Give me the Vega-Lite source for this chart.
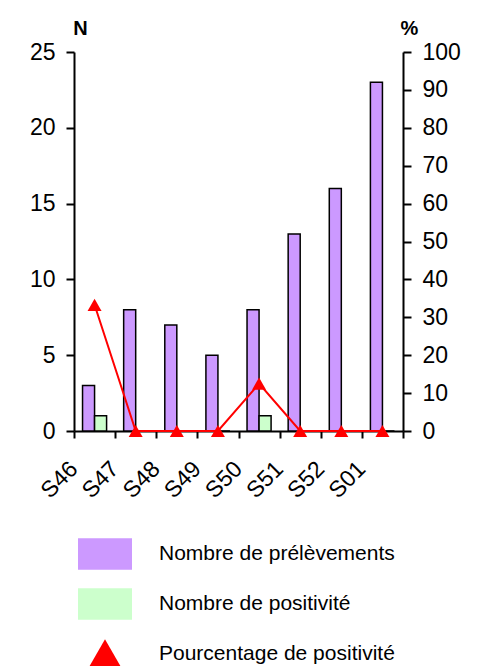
{
  "$schema": "https://vega.github.io/schema/vega-lite/v6.json",
  "width": 329,
  "height": 379,
  "autosize": {"type": "none"},
  "padding": {"left": 74, "top": 52, "right": 78, "bottom": 235},
  "background": "white",
  "config": {
    "view": {"stroke": null},
    "font": "Liberation Sans",
    "axis": {
      "grid": false,
      "domainColor": "black",
      "tickColor": "black",
      "domainWidth": 2,
      "tickWidth": 2,
      "labelColor": "black",
      "labelFont": "Liberation Sans",
      "labelFontSize": 23,
      "titleColor": "black",
      "titleFont": "Liberation Sans"
    },
    "legend": {
      "orient": "none",
      "legendX": 4,
      "legendY": 475,
      "padding": 0,
      "direction": "vertical",
      "symbolSize": 2916,
      "symbolStrokeWidth": 0,
      "labelFont": "Liberation Sans",
      "labelFontSize": 21,
      "labelColor": "black",
      "labelOffset": 27,
      "labelLimit": 400,
      "rowPadding": 7
    }
  },
  "datasets": {
    "bars": [
      {"week": "S46", "series": "Nombre de prélèvements", "n": 3},
      {"week": "S46", "series": "Nombre de positivité", "n": 1},
      {"week": "S47", "series": "Nombre de prélèvements", "n": 8},
      {"week": "S47", "series": "Nombre de positivité", "n": 0},
      {"week": "S48", "series": "Nombre de prélèvements", "n": 7},
      {"week": "S48", "series": "Nombre de positivité", "n": 0},
      {"week": "S49", "series": "Nombre de prélèvements", "n": 5},
      {"week": "S49", "series": "Nombre de positivité", "n": 0},
      {"week": "S50", "series": "Nombre de prélèvements", "n": 8},
      {"week": "S50", "series": "Nombre de positivité", "n": 1},
      {"week": "S51", "series": "Nombre de prélèvements", "n": 13},
      {"week": "S51", "series": "Nombre de positivité", "n": 0},
      {"week": "S52", "series": "Nombre de prélèvements", "n": 16},
      {"week": "S52", "series": "Nombre de positivité", "n": 0},
      {"week": "S01", "series": "Nombre de prélèvements", "n": 23},
      {"week": "S01", "series": "Nombre de positivité", "n": 0}
    ],
    "pct": [
      {"week": "S46", "series": "Pourcentage de positivité", "pct": 33.3},
      {"week": "S47", "series": "Pourcentage de positivité", "pct": 0},
      {"week": "S48", "series": "Pourcentage de positivité", "pct": 0},
      {"week": "S49", "series": "Pourcentage de positivité", "pct": 0},
      {"week": "S50", "series": "Pourcentage de positivité", "pct": 12.5},
      {"week": "S51", "series": "Pourcentage de positivité", "pct": 0},
      {"week": "S52", "series": "Pourcentage de positivité", "pct": 0},
      {"week": "S01", "series": "Pourcentage de positivité", "pct": 0}
    ]
  },
  "encoding": {
    "x": {
      "field": "week",
      "type": "nominal",
      "sort": ["S46", "S47", "S48", "S49", "S50", "S51", "S52", "S01"],
      "scale": {"paddingInner": 0, "paddingOuter": 0},
      "axis": {
        "title": null,
        "labelAngle": -45,
        "labelAlign": "right",
        "labelBaseline": "middle",
        "labelOffset": -21,
        "labelPadding": 27,
        "tickBand": "extent",
        "tickSize": 7
      }
    }
  },
  "layer": [
    {
      "data": {"name": "bars"},
      "mark": {"type": "bar", "stroke": "black", "strokeWidth": 1.5},
      "encoding": {
        "xOffset": {
          "field": "series",
          "type": "nominal",
          "scale": {"domain": ["Nombre de prélèvements", "Nombre de positivité"], "paddingInner": 0, "paddingOuter": 0.71}
        },
        "y": {
          "field": "n",
          "type": "quantitative",
          "scale": {"domain": [0, 25], "nice": false},
          "axis": {
            "values": [0, 5, 10, 15, 20, 25],
            "title": "N",
            "titleAngle": 0,
            "titleAlign": "center",
            "titleBaseline": "alphabetic",
            "titleX": 6,
            "titleY": -18,
            "titleFontSize": 20,
            "titleFontWeight": "bold",
            "tickSize": 8,
            "labelPadding": 11
          }
        },
        "fill": {
          "field": "series",
          "type": "nominal",
          "scale": {"domain": ["Nombre de prélèvements", "Nombre de positivité"], "range": ["#CC99FF", "#CCFFCC"]},
          "legend": null
        }
      }
    },
    {
      "data": {"name": "pct"},
      "encoding": {
        "y": {
          "field": "pct",
          "type": "quantitative",
          "scale": {"domain": [0, 100], "nice": false},
          "axis": {
            "orient": "right",
            "values": [0, 10, 20, 30, 40, 50, 60, 70, 80, 90, 100],
            "title": "%",
            "titleAngle": 0,
            "titleAlign": "center",
            "titleBaseline": "alphabetic",
            "titleX": 6,
            "titleY": -18,
            "titleFontSize": 20,
            "titleFontWeight": "bold",
            "tickSize": 8,
            "labelPadding": 11
          }
        }
      },
      "layer": [
        {
          "mark": {"type": "line", "color": "#FF0000", "strokeWidth": 2}
        },
        {
          "mark": {"type": "point", "filled": true, "opacity": 1, "size": 493, "strokeWidth": 0},
          "encoding": {
            "color": {
              "field": "series",
              "type": "nominal",
              "title": null,
              "scale": {
                "domain": ["Nombre de prélèvements", "Nombre de positivité", "Pourcentage de positivité"],
                "range": ["#CC99FF", "#CCFFCC", "#FF0000"]
              }
            },
            "shape": {
              "field": "series",
              "type": "nominal",
              "title": null,
              "scale": {
                "domain": ["Nombre de prélèvements", "Nombre de positivité", "Pourcentage de positivité"],
                "range": ["M-1,-0.58L1,-0.58L1,0.58L-1,0.58Z", "M-1,-0.58L1,-0.58L1,0.58L-1,0.58Z", "M0,-0.55L0.63,0.55L-0.63,0.55Z"]
              }
            }
          }
        }
      ]
    }
  ],
  "resolve": {"scale": {"y": "independent"}}
}
